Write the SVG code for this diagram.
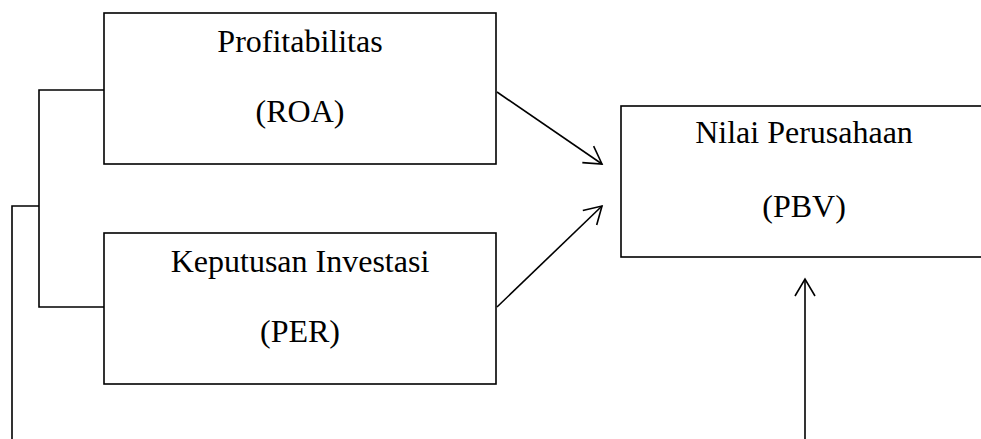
<svg xmlns="http://www.w3.org/2000/svg" width="981" height="439" viewBox="0 0 981 439">
<defs>
<marker id="arr" markerUnits="userSpaceOnUse" markerWidth="40" markerHeight="40" viewBox="-20 -20 40 40" refX="0" refY="0" orient="auto">
<path d="M-17,-10 L0,0 L-17,10" fill="none" stroke="#000" stroke-width="1.6"/>
</marker>
<style>
.box{fill:#fff;stroke:#000;stroke-width:1.6}
.ln{fill:none;stroke:#000;stroke-width:1.6}
.t{font-family:"Liberation Serif","Times New Roman",serif;font-size:32px;fill:#000;text-anchor:middle}
</style>
</defs>
<rect width="981" height="439" fill="#fff"/>
<g id="connectors">
<path class="ln" d="M104,90 H39 V307 H104"/>
<path class="ln" d="M12,439 V206 H39"/>
<line class="ln" x1="497" y1="92" x2="602" y2="164" marker-end="url(#arr)"/>
<line class="ln" x1="497" y1="307" x2="602" y2="206" marker-end="url(#arr)"/>
<line class="ln" x1="805" y1="439" x2="805" y2="279" marker-end="url(#arr)"/>
</g>
<g id="node-roa">
<rect class="box" x="104" y="13" width="392" height="151"/>
<text class="t" x="300" y="52">Profitabilitas</text>
<text class="t" x="300" y="122">(ROA)</text>
</g>
<g id="node-per">
<rect class="box" x="104" y="233" width="392" height="151"/>
<text class="t" x="300" y="272">Keputusan Investasi</text>
<text class="t" x="300" y="342">(PER)</text>
</g>
<g id="node-pbv">
<rect class="box" x="621" y="106" width="380" height="151"/>
<text class="t" x="804" y="143">Nilai Perusahaan</text>
<text class="t" x="804" y="217">(PBV)</text>
</g>
</svg>
